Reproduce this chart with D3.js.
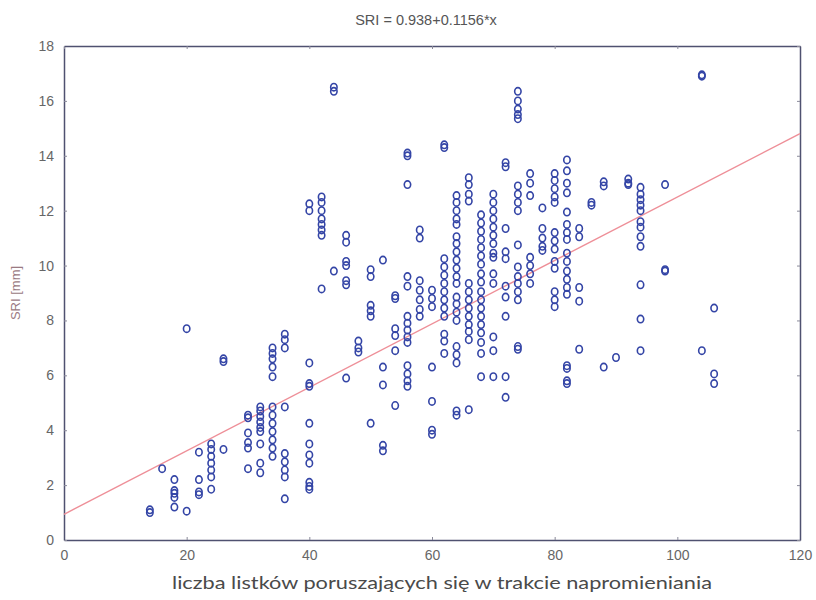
<!DOCTYPE html>
<html>
<head>
<meta charset="utf-8">
<script src="https://cdn.jsdelivr.net/npm/d3@7"></script>
<style>
  body { margin: 0; background: #fff; }
  svg { display: block; }
</style>
</head>
<body>
<svg id="chart" width="816" height="600"></svg>
<script>
// Observed values: number of moving leaflets (x) and SRI in mm (y), grouped by x
const leafCounts = [14, 16, 18, 20, 22, 24, 26, 30, 32, 34, 36, 40, 42, 44, 46, 48, 50, 52, 54, 56,
                    58, 60, 62, 64, 66, 68, 70, 72, 74, 76, 78, 80, 82, 84, 86, 88, 90, 92, 94, 98, 104, 106];
const sriValues = [
  [1.0, 1.1],
  [2.6],
  [2.2, 1.8, 1.7, 1.55, 1.2],
  [7.7, 1.05],
  [3.2, 2.2, 1.75, 1.65],
  [3.5, 3.3, 3.05, 2.8, 2.55, 2.3, 1.85],
  [6.6, 6.5, 3.3],
  [4.55, 4.45, 3.9, 3.55, 3.35, 2.6],
  [4.85, 4.7, 4.5, 4.3, 4.1, 3.95, 3.5, 2.8, 2.45],
  [7.0, 6.8, 6.6, 6.3, 5.95, 4.85, 4.55, 4.25, 3.95, 3.65, 3.35, 3.05],
  [7.5, 7.3, 7.0, 4.85, 3.15, 2.85, 2.55, 2.3, 1.5],
  [12.25, 12.0, 6.45, 5.7, 5.6, 4.25, 3.5, 3.1, 2.8, 2.1, 1.95, 1.85],
  [12.5, 12.3, 12.0, 11.7, 11.5, 11.3, 11.1, 9.15],
  [16.5, 16.35, 9.8],
  [11.1, 10.85, 10.15, 10.0, 9.45, 9.3, 5.9],
  [7.25, 7.0, 6.85],
  [9.85, 9.6, 8.55, 8.35, 8.15, 4.25],
  [10.2, 6.3, 5.65, 3.45, 3.25],
  [8.9, 8.8, 7.7, 7.45, 6.9, 4.9],
  [14.1, 14.0, 12.95, 9.6, 9.25, 8.15, 7.9, 7.65, 7.4, 7.2, 6.35, 6.05, 5.8, 5.6],
  [11.3, 11.0, 9.45, 9.1, 8.75, 8.4, 8.15],
  [9.1, 8.8, 8.5, 6.3, 5.05, 4.0, 3.85],
  [14.4, 14.3, 10.25, 9.95, 9.65, 9.35, 9.05, 8.75, 8.45, 8.15, 7.5, 7.25, 6.8],
  [12.55, 12.3, 12.0, 11.7, 11.5, 11.05, 10.8, 10.5, 10.2, 9.9, 9.6, 9.35, 8.85, 8.6, 8.3, 8.0, 7.05, 6.75, 6.45, 4.7, 4.55],
  [13.2, 12.95, 12.6, 12.35, 9.35, 9.05, 8.75, 8.45, 8.15, 7.85, 7.6, 7.3, 4.75],
  [11.85, 11.55, 11.25, 10.95, 10.65, 10.35, 10.05, 9.7, 9.4, 9.05, 8.75, 8.45, 8.15, 7.85, 7.55, 7.2, 6.8, 5.95],
  [12.6, 12.3, 12.0, 11.7, 11.4, 11.1, 10.8, 10.45, 10.3, 9.7, 9.35, 7.4, 6.9, 5.95],
  [13.75, 13.6, 11.35, 10.5, 10.25, 9.25, 8.85, 8.15, 5.95, 5.2],
  [16.35, 16.0, 15.7, 15.5, 15.35, 12.9, 12.6, 12.3, 12.0, 10.75, 9.95, 9.6, 9.35, 9.05, 8.75, 7.05, 6.95],
  [13.35, 13.0, 12.55, 10.3, 10.0, 9.7, 9.35],
  [12.1, 11.35, 11.0, 10.7, 10.55],
  [13.35, 13.1, 12.8, 12.5, 12.3, 11.2, 10.9, 10.6, 10.15, 9.9, 9.05, 8.75, 8.5],
  [13.85, 13.45, 13.0, 12.65, 11.95, 11.5, 11.2, 10.95, 10.45, 10.15, 9.8, 9.5, 9.2, 8.95, 6.35, 6.25, 5.8, 5.7],
  [11.35, 11.05, 9.2, 8.7, 6.95],
  [12.3, 12.2],
  [13.05, 12.9, 6.3],
  [6.65],
  [13.15, 13.0, 12.95],
  [12.85, 12.6, 12.4, 12.2, 12.0, 11.6, 11.4, 11.05, 10.7, 9.3, 8.05, 6.9],
  [12.95, 9.85, 9.8],
  [16.95, 16.9, 6.9],
  [8.45, 6.05, 5.7]
];

// Linear fit shown in the title
const intercept = 0.938;
const slope = 0.1156;

const xTicks = [0, 20, 40, 60, 80, 100, 120];
const yTicks = [0, 2, 4, 6, 8, 10, 12, 14, 16, 18];

const titleText = "SRI = 0.938+0.1156*x";
const xLabelText = "liczba listków poruszających się w trakcie napromieniania";
const yLabelText = "SRI [mm]";

const points = [];
leafCounts.forEach((c, i) => sriValues[i].forEach(v => points.push({ x: c, y: v })));

const margin = { left: 64, right: 16, top: 46, bottom: 60 };
const W = 816, H = 600;
const svg = d3.select("#chart");

const x = d3.scaleLinear().domain([0, 120]).range([margin.left, W - margin.right]);
const y = d3.scaleLinear().domain([0, 18]).range([H - margin.bottom, margin.top]);

const axisColor = "#4f5170";
const labelFont = "Liberation Sans, Arial, sans-serif";

// Frame-side axes with short inward ticks
const axisBottomG = svg.append("g").attr("transform", `translate(0,${y(0)})`)
  .call(d3.axisBottom(x).tickValues(xTicks).tickSizeInner(-3).tickSizeOuter(0).tickPadding(10));
const axisLeftG = svg.append("g").attr("transform", `translate(${x(0)},0)`)
  .call(d3.axisLeft(y).tickValues(yTicks).tickSizeInner(-3).tickSizeOuter(0).tickPadding(10));
const axisTopG = svg.append("g").attr("transform", `translate(0,${y(18)})`)
  .call(d3.axisTop(x).tickValues(xTicks).tickSizeInner(-3).tickSizeOuter(0).tickFormat(""));
const axisRightG = svg.append("g").attr("transform", `translate(${x(120)},0)`)
  .call(d3.axisRight(y).tickValues(yTicks).tickSizeInner(-3).tickSizeOuter(0).tickFormat(""));

[axisBottomG, axisLeftG, axisTopG, axisRightG].forEach(g => {
  g.select(".domain").attr("stroke", axisColor).attr("stroke-width", 1.5);
  g.selectAll(".tick line").attr("stroke", "#8a8a9a").attr("stroke-width", 1);
  g.selectAll(".tick text").attr("fill", "#666").attr("font-size", 14).attr("font-family", labelFont);
});

// Regression line
svg.append("line")
  .attr("x1", x(0)).attr("y1", y(intercept))
  .attr("x2", x(120)).attr("y2", y(intercept + slope * 120))
  .attr("stroke", "#ee8f98").attr("stroke-width", 1.4);

// Observations as open circles
svg.append("g").selectAll("ellipse").data(points).join("ellipse")
  .attr("cx", d => x(d.x)).attr("cy", d => y(d.y))
  .attr("rx", 3.2).attr("ry", 3.7)
  .attr("fill", "none")
  .attr("stroke", "#3445a6")
  .attr("stroke-width", 1.6);

// Title
svg.append("text")
  .attr("x", 426).attr("y", 25)
  .attr("text-anchor", "middle")
  .attr("font-family", labelFont).attr("font-size", 14.5)
  .attr("fill", "#555")
  .text(titleText);

// Axis titles
svg.append("text")
  .attr("x", 442).attr("y", 589)
  .attr("text-anchor", "middle")
  .attr("font-family", "Lato, Open Sans, sans-serif").attr("font-size", 18)
  .attr("textLength", 540).attr("lengthAdjust", "spacingAndGlyphs")
  .attr("fill", "#4a4a4a")
  .text(xLabelText);

svg.append("text")
  .attr("transform", `translate(20,${y(9)}) rotate(-90)`)
  .attr("text-anchor", "middle")
  .attr("font-family", labelFont).attr("font-size", 13)
  .attr("fill", "#9a7a82")
  .text(yLabelText);
</script>
</body>
</html>
